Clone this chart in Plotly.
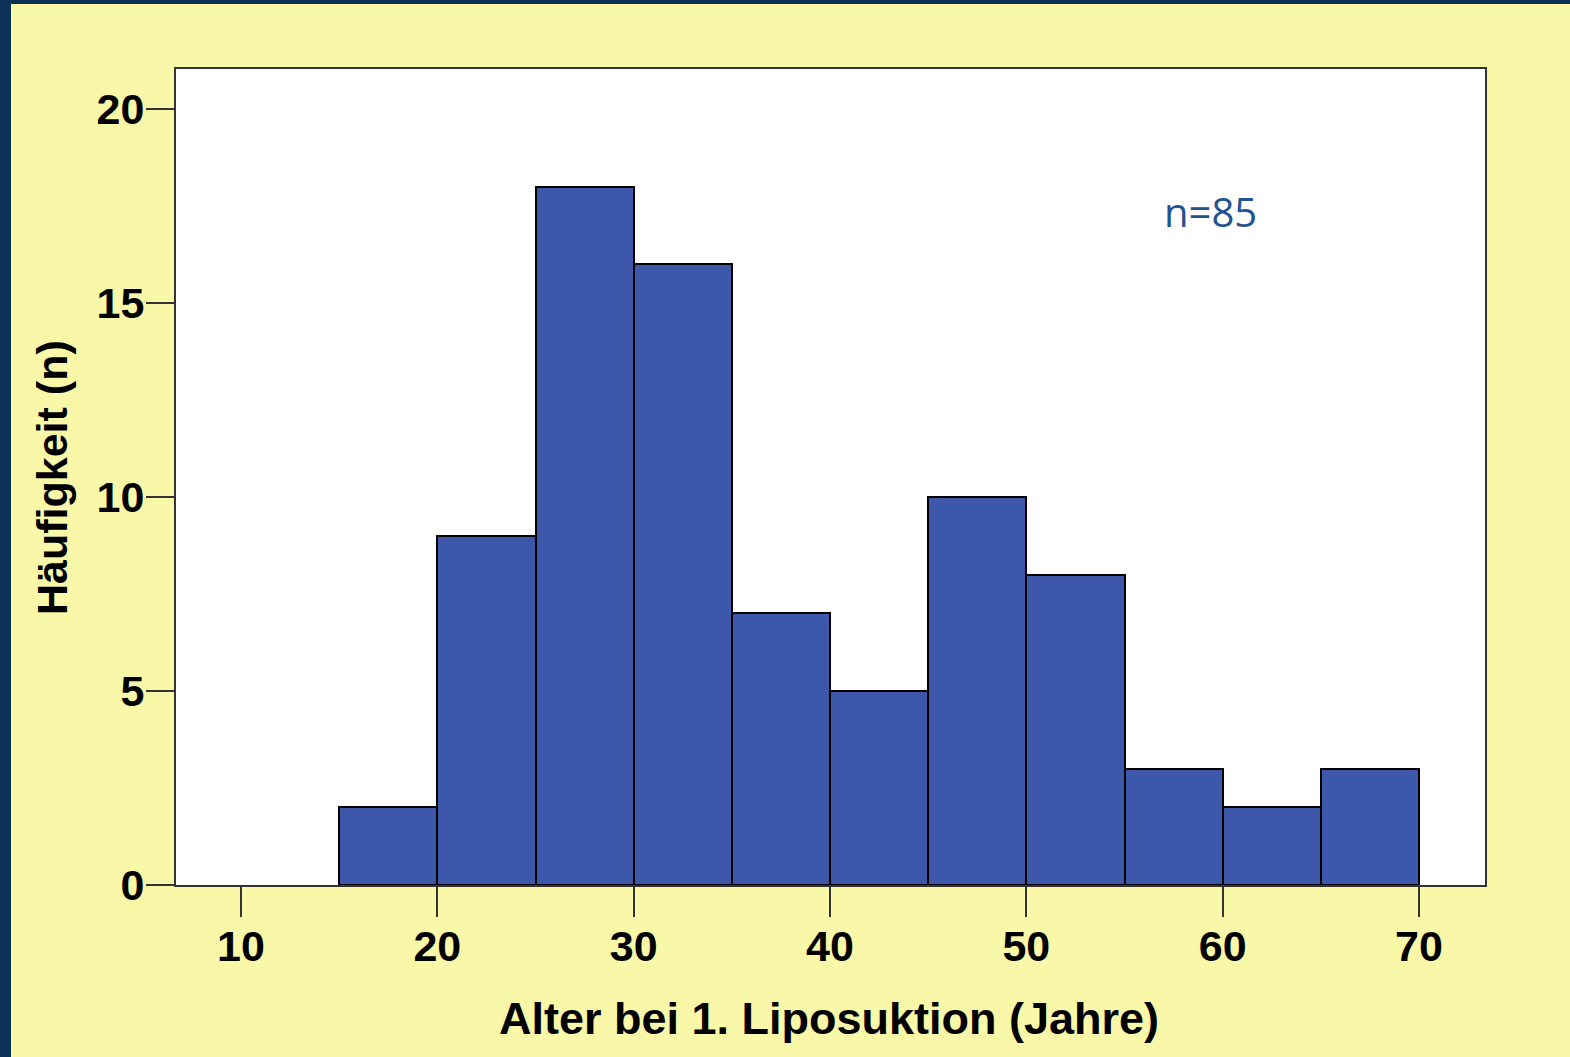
import plotly.graph_objects as go

# Data (bin width 5 years)
bin_starts = [15, 20, 25, 30, 35, 40, 45, 50, 55, 60, 65]
counts = [2, 9, 18, 16, 7, 5, 10, 8, 3, 2, 3]
bin_width = 5
x_ticks = [10, 20, 30, 40, 50, 60, 70]
y_ticks = [0, 5, 10, 15, 20]
n_label = "n=85"
x_title = "Alter bei 1. Liposuktion (Jahre)"
y_title = "Häufigkeit (n)"

W, H = 1570, 1057
L, R, T, B = 176, 85, 69, 172
pw, ph = W - L - R, H - T - B

YELLOW = "#F9F7A8"
NAVY = "#0B3157"
BAR = "#3D58AB"
FONT = "Liberation Sans, Arial, sans-serif"

centers = [s + bin_width / 2 for s in bin_starts]

fig = go.Figure()
fig.add_trace(go.Bar(
    x=centers, y=counts, width=[bin_width] * len(counts),
    marker=dict(color=BAR, line=dict(color="#000000", width=2)),
    hoverinfo="x+y", showlegend=False,
))

fig.update_layout(
    width=W, height=H,
    margin=dict(l=L, r=R, t=T, b=B, pad=0),
    paper_bgcolor=YELLOW, plot_bgcolor="#FFFFFF",
    bargap=0,
    font=dict(family=FONT, color="#000000"),
    xaxis=dict(
        range=[6.69, 73.36], tickvals=x_ticks, ticktext=[str(v) for v in x_ticks],
        ticks="outside", ticklen=30, tickwidth=2, tickcolor="#333333",
        tickfont=dict(family=FONT, size=43, color="#000000", weight="bold"),
        showline=True, linecolor="#333333", linewidth=2, mirror=True,
        showgrid=False, zeroline=False, fixedrange=True,
        ticklabelstandoff=-8,
    ),
    yaxis=dict(
        range=[0, 21.03], tickvals=y_ticks, ticktext=[str(v) for v in y_ticks],
        ticks="outside", ticklen=28, tickwidth=2, tickcolor="#333333",
        tickfont=dict(family=FONT, size=43, color="#000000", weight="bold"),
        showline=True, linecolor="#333333", linewidth=2, mirror=True,
        showgrid=False, zeroline=False, fixedrange=True,
        ticklabelstandoff=-7,
    ),
    shapes=[
        # navy frame strips (left and top)
        dict(type="rect", xref="paper", yref="paper",
             x0=(0 - L) / pw, x1=(11 - L) / pw, y0=-(B) / ph - 0.01, y1=1 + T / ph + 0.01,
             fillcolor=NAVY, line=dict(width=0), layer="above"),
        dict(type="rect", xref="paper", yref="paper",
             x0=(0 - L) / pw, x1=1 + R / pw + 0.01, y0=1 + (T - 4) / ph, y1=1 + T / ph + 0.01,
             fillcolor=NAVY, line=dict(width=0), layer="above"),
    ],
    annotations=[
        dict(text=n_label, x=59.4, y=17.37, xref="x", yref="y", showarrow=False,
             xanchor="center", yanchor="middle",
             font=dict(family="Open Sans, sans-serif", size=40, color="#24528F")),
        dict(text=x_title, x=(829 - L) / pw, y=-(1018 - T - ph) / ph, xref="paper", yref="paper",
             showarrow=False, xanchor="center", yanchor="middle",
             font=dict(family=FONT, size=45, color="#000000", weight="bold")),
        dict(text=y_title, x=(52 - L) / pw, y=(885 - 478) / ph, xref="paper", yref="paper",
             showarrow=False, xanchor="center", yanchor="middle", textangle=-90,
             font=dict(family=FONT, size=43, color="#000000", weight="bold")),
    ],
)

fig.write_html("out.html", config={"displayModeBar": False},
               post_script="document.body.style.margin='0';")
